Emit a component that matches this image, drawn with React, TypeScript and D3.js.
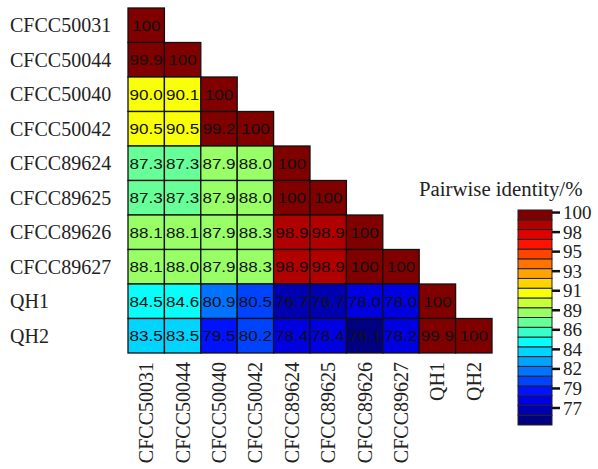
import React from "react";
import * as d3 from "d3";

const strains = [
  "CFCC50031", "CFCC50044", "CFCC50040", "CFCC50042", "CFCC89624",
  "CFCC89625", "CFCC89626", "CFCC89627", "QH1", "QH2",
];

const row0 = [100];
const row1 = [99.9, 100];
const row2 = [90.0, 90.1, 100];
const row3 = [90.5, 90.5, 99.2, 100];
const row4 = [87.3, 87.3, 87.9, 88.0, 100];
const row5 = [87.3, 87.3, 87.9, 88.0, 100, 100];
const row6 = [88.1, 88.1, 87.9, 88.3, 98.9, 98.9, 100];
const row7 = [88.1, 88.0, 87.9, 88.3, 98.9, 98.9, 100, 100];
const row8 = [84.5, 84.6, 80.9, 80.5, 76.7, 76.7, 78.0, 78.0, 100];
const row9 = [83.5, 83.5, 79.5, 80.2, 78.4, 78.4, 76.1, 78.2, 99.9, 100];
const identityRows = [row0, row1, row2, row3, row4, row5, row6, row7, row8, row9];

const legendTitle = "Pairwise identity/%";
const legendTickValues = [100, 97.7, 95.4, 93.1, 90.8, 88.5, 86.2, 83.9, 81.6, 79.3, 77.0];
const legendTickLabels = ["100", "98", "95", "93", "91", "89", "86", "84", "82", "79", "77"];
const colorDomain = [75.0, 100.3];
const levelCount = 22;

function jet(t: number): string {
  const c = (x: number) => Math.max(0, Math.min(1, x));
  const r = c(1.5 - Math.abs(4 * t - 3));
  const g = c(1.5 - Math.abs(4 * t - 2));
  const b = c(1.5 - Math.abs(4 * t - 1));
  return d3.rgb(r * 255, g * 255, b * 255).formatHex();
}

const levelColors = d3.range(levelCount).map((i) => jet(i / (levelCount - 1)));

export default function App() {
  const W = 598;
  const H = 469;
  const x = d3.scaleBand<string>().domain(strains).range([128, 492]).padding(0);
  const y = d3.scaleBand<string>().domain(strains).range([8, 353]).padding(0);
  const color = d3.scaleQuantize<string>().domain(colorDomain).range(levelColors);

  const legX = 518;
  const legW = 34;
  const legY = d3.scaleLinear().domain(colorDomain).range([425, 210]);
  const step = (colorDomain[1] - colorDomain[0]) / levelCount;

  const serif = "'Liberation Serif', 'Times New Roman', serif";
  const sans = "'Liberation Sans', Arial, sans-serif";

  const cells: any[] = [];
  identityRows.forEach((row, ri) => {
    row.forEach((v, ci) => {
      const cx = x(strains[ci])!;
      const cy = y(strains[ri])!;
      const tx = cx + x.bandwidth() / 2;
      const ty = cy + y.bandwidth() / 2 + 5.5;
      cells.push(
        <g key={`${ri}-${ci}`}>
          <rect x={cx} y={cy} width={x.bandwidth()} height={y.bandwidth()}
            fill={color(v)} stroke="#111" strokeWidth={1.3} />
          <text transform={`translate(${tx},${ty}) scale(1.1,1)`}
            textAnchor="middle" fontFamily={sans} fontSize={15.5} fill="#111">
            {v === 100 ? "100" : v.toFixed(1)}
          </text>
        </g>
      );
    });
  });

  return (
    <svg width={W} height={H} style={{ position: "absolute", left: 0, top: 0, background: "#fff" }}>
      <rect x={0} y={0} width={W} height={H} fill="#fff" />
      {cells}
      {strains.map((s) => (
        <text key={"r" + s} x={10} y={y(s)! + y.bandwidth() / 2 + 7}
          fontFamily={serif} fontSize={20} fill="#222">{s}</text>
      ))}
      {strains.map((s) => {
        const cx = x(s)! + x.bandwidth() / 2 + 7;
        return (
          <text key={"c" + s} transform={`translate(${cx},362) rotate(-90)`}
            textAnchor="end" fontFamily={serif} fontSize={20} fill="#222">{s}</text>
        );
      })}
      <text x={419} y={196} fontFamily={serif} fontSize={20.8} fill="#222">{legendTitle}</text>
      {levelColors.map((c, j) => {
        const lo = colorDomain[0] + j * step;
        const hi = lo + step;
        return (
          <rect key={"l" + j} x={legX} y={legY(hi)} width={legW} height={legY(lo) - legY(hi)}
            fill={c} stroke="#222" strokeWidth={1} />
        );
      })}
      {legendTickValues.map((v, i) => (
        <g key={"t" + i}>
          <line x1={legX + legW} x2={legX + legW + 8} y1={legY(v)} y2={legY(v)} stroke="#111" strokeWidth={2.5} />
          <text x={563} y={legY(v) + 6.5} fontFamily={serif} fontSize={19} fill="#222">{legendTickLabels[i]}</text>
        </g>
      ))}
    </svg>
  );
}
